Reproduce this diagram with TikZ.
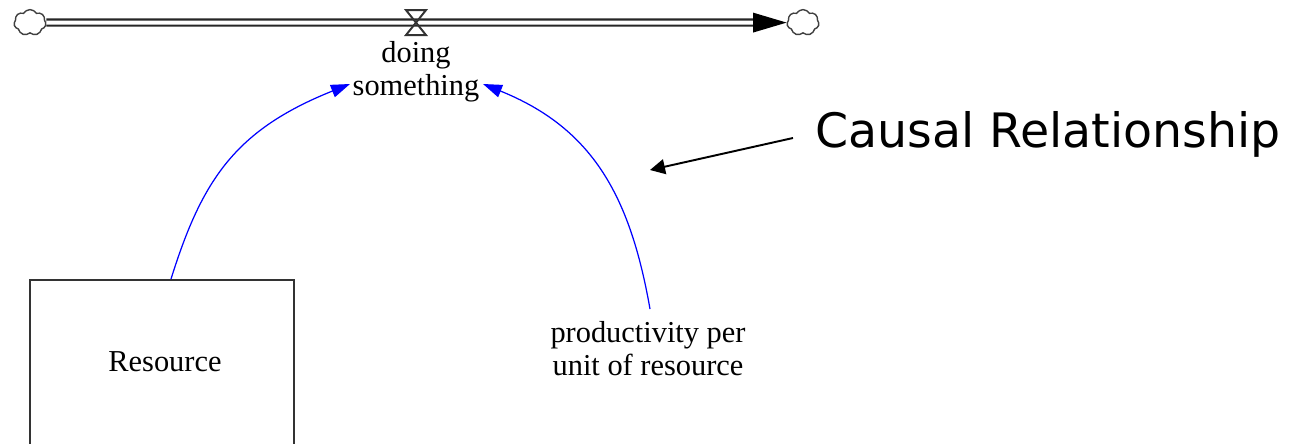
\documentclass[tikz,border=0pt]{standalone}
\usepackage{fontspec}
\setmainfont{Liberation Serif}
\newfontfamily\causalfont{DejaVu Sans}
\usetikzlibrary{shapes.symbols,arrows.meta,calc}
\begin{document}
\begin{tikzpicture}[x=0.02cm,y=-0.02cm,
  lbl/.style={font=\fontsize{17.3pt}{18.5pt}\selectfont, align=center, inner sep=0pt},
  cloudnode/.style={cloud, cloud puffs=7, cloud puff arc=120, aspect=1.25, draw=black!75, line width=0.8pt, inner sep=0pt, minimum width=0.64cm, minimum height=0.52cm},
  pipe/.style={draw=black!85, double=white, line width=1.2pt, double distance=2.3pt},
  link/.style={draw=blue, line width=0.7pt, -{Triangle[length=0.38cm,width=0.26cm]}},
  stock/.style={draw=black!80, line width=1.1pt, rectangle, minimum width=5.28cm, minimum height=4.2cm, inner sep=0pt},
  note/.style={draw=black, line width=1.1pt, -{Triangle[length=0.3cm,width=0.3cm]}},
  valvestyle/.style={draw=black!80, line width=1.1pt}
]
\useasboundingbox (0,0) rectangle (1295,443);
\clip (0,0) rectangle (1295,443);

% flow
\node[cloudnode] (src) at (30,22.6) {};
\node[cloudnode] (snk) at (803,22.6) {};
\coordinate (pipeend) at (753,22.6);
\draw[pipe] (src.east) -- (pipeend);
\fill[black] (pipeend) ++(0,-10) -- (snk.west) -- ($(pipeend)+(0,10)$) -- cycle;
\coordinate (valve) at (416,22.6);
\draw[valvestyle] ($(valve)+(-10,-12.5)$) -- ++(20,0) -- ++(-20,25) -- ++(20,0) -- cycle;

% labels (base anchor = last line baseline)
\node[lbl, anchor=base] (flow) at (416,95) {doing\\something};
\node[lbl, anchor=base] (prod) at (648,375) {productivity per\\unit of resource};
\node[stock, anchor=north] (res) at (162.3,279) {};
\node[lbl, anchor=base] (reslbl) at (165,371.7) {Resource};
\node[font=\causalfont\fontsize{27pt}{32pt}\selectfont, anchor=base west, inner sep=0pt] (causal) at (815,147) {Causal Relationship};

% causal links
\coordinate (l1s) at ($(res.north)+(8.7,0)$);
\coordinate (l1e) at (350,84);
\draw[link] (l1s) .. controls (202,180) and (235,130) .. (l1e);
\coordinate (l2s) at (650,309);
\coordinate (l2e) at (483,84);
\draw[link] (l2s) .. controls (630,195) and (592,128) .. (l2e);

% annotation arrow
\coordinate (nt) at ($(causal.base west)+(-22,-9)$);
\coordinate (nh) at (650,170);
\draw[note] (nt) -- (nh);
\end{tikzpicture}
\end{document}
